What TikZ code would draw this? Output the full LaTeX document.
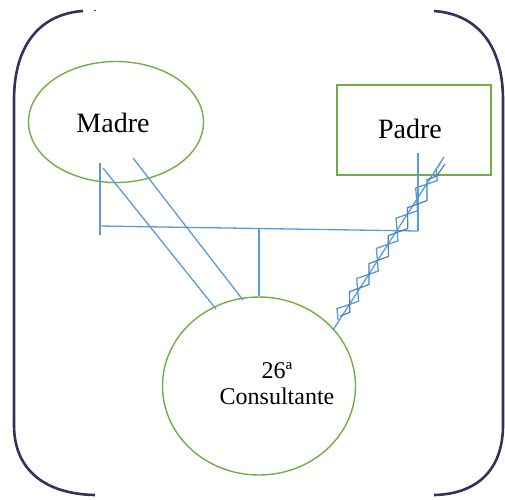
\documentclass[tikz,border=0pt]{standalone}
\usepackage{fontspec}
\setmainfont{Liberation Serif}
\usetikzlibrary{decorations.pathmorphing,shapes.geometric}
\definecolor{brk}{HTML}{3B2E5A}
\definecolor{grn}{HTML}{70AD47}
\definecolor{blu}{HTML}{5B9BD5}
\definecolor{bludark}{HTML}{4A7EBB}
\begin{document}
\begin{tikzpicture}[x=1pt,y=-1pt,
  bracket/.style={draw=brk,line width=2.6pt},
  greenshape/.style={draw=grn,line width=1.4pt,inner sep=0pt},
  link/.style={draw=blu,line width=1.3pt},
  lbl/.style={font=\fontsize{28}{30}\selectfont,inner sep=0pt,anchor=base}]
\useasboundingbox (0,0) rectangle (505,499);
% brackets
\draw[bracket] (83,11) .. controls (40,14) and (14,45) .. (14,100) -- (14,425)
  .. controls (14,470) and (45,494) .. (95,495);
\fill[brk] (95,10.5) circle (0.9);
\draw[bracket] (434,11) .. controls (477,14) and (503,45) .. (503,100) -- (503,425)
  .. controls (503,470) and (477,494) .. (434,495);
% shapes
\node[greenshape,ellipse,minimum width=175pt,minimum height=121pt] (madre) at (116,122) {};
\node[greenshape,rectangle,minimum width=154pt,minimum height=90pt] (padre) at (414,130) {};
\node[greenshape,ellipse,minimum width=193pt,minimum height=178pt] (cons) at (259,386) {};
\node[lbl] (tm) at (113,132) {Madre};
\node[lbl] (tp) at (410,138) {Padre};
\node[font=\fontsize{24}{26}\selectfont,align=center,inner sep=0pt] (tc) at (277,384) {26ª\\Consultante};
% coordinates
\coordinate (lv1) at (100,163);
\coordinate (lv2) at (100,235);
\coordinate (h1) at (100,226);
\coordinate (h2) at (418,231);
\coordinate (rv1) at (418,153);
\coordinate (mv1) at (259,229);
\coordinate (mv2) at (259,296);
\coordinate (d1a) at (103,168);
\coordinate (d1b) at (216,309);
\coordinate (d2a) at (133,158);
\coordinate (d2b) at (243,300);
\coordinate (wa) at (333,330);
\coordinate (wb) at (444,157);
\coordinate (za) at (338,320);
\coordinate (zb) at (441,162);
\coordinate (zc) at (340,316);
\coordinate (zd) at (445,164);
% links
\draw[link] (lv1) -- (lv2);
\draw[link] (h1) -- (h2);
\draw[link] (rv1) -- (h2);
\draw[link] (mv1) -- (mv2);
\draw[link] (d1a) -- (d1b);
\draw[link] (d2a) -- (d2b);
\draw[link] (wa) -- (wb);
\draw[link,decorate,decoration={zigzag,segment length=36pt,amplitude=7pt}] (za) -- (zb);
\draw[draw=bludark,line width=1.2pt,decorate,decoration={zigzag,segment length=34pt,amplitude=6pt,mirror}] (zc) -- (zd);
\end{tikzpicture}
\end{document}
